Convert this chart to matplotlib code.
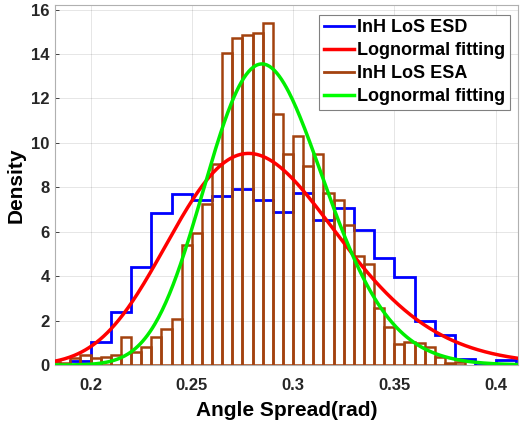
import matplotlib.pyplot as plt
import numpy as np

plt.rcParams['font.family'] = ['Liberation Sans', 'DejaVu Sans']
plt.rcParams['font.weight'] = 'bold'

# ESD histogram (stairs), bin width 0.01
esd_edges = [0.19, 0.20, 0.21, 0.22, 0.23, 0.24, 0.25, 0.26, 0.27, 0.28, 0.29, 0.30,
             0.31, 0.32, 0.33, 0.34, 0.35, 0.36, 0.37, 0.38, 0.39, 0.40, 0.41]
esd_density = [0.2, 1.03, 2.4, 4.42, 6.86, 7.72, 7.42, 7.6, 7.93, 7.45, 6.88,
               7.74, 6.52, 7.09, 6.07, 4.8, 3.97, 1.99, 1.33, 0.25, 0.0, 0.22]

# ESA histogram (bars), bin width 0.005
esa_left = [0.180, 0.185, 0.190, 0.195, 0.200, 0.205, 0.210, 0.215, 0.220, 0.225,
            0.230, 0.235, 0.240, 0.245, 0.250, 0.255, 0.260, 0.265, 0.270, 0.275,
            0.280, 0.285, 0.290, 0.295, 0.300, 0.305, 0.310, 0.315, 0.320, 0.325,
            0.330, 0.335, 0.340, 0.345, 0.350, 0.355, 0.360, 0.365, 0.370, 0.375,
            0.380]
esa_density = [0.15, 0.1, 0.3, 0.45, 0.3, 0.35, 0.45, 1.25, 0.57, 0.8,
               1.25, 1.6, 2.05, 5.39, 5.96, 7.24, 9.03, 14.05, 14.72, 14.85,
               14.94, 15.4, 11.31, 9.48, 10.29, 8.96, 9.48, 7.76, 7.45, 6.29,
               4.93, 4.57, 2.55, 1.72, 0.94, 1.05, 1.0, 0.8, 0.35, 0.1,
               0.15]
esa_width = 0.005

# lognormal fit parameters (mu, sigma of ln x), estimated from the curves
esd_mu, esd_sigma = -1.2579, 0.149
esa_mu, esa_sigma = -1.2461, 0.1029


def lognpdf(x, mu, sigma):
    return np.exp(-(np.log(x) - mu) ** 2 / (2 * sigma ** 2)) / (x * sigma * np.sqrt(2 * np.pi))


fig = plt.figure(figsize=(5.2, 4.23), dpi=100)
ax = fig.add_axes([0.106, 0.137, 0.89, 0.851])

x = np.linspace(0.18, 0.42, 400)
brown = '#a3420f'

ax.stairs(esd_density, esd_edges, color='#0000ff', linewidth=2, baseline=0,
          label='InH LoS ESD', zorder=2)
ax.plot([], [], color='#ff0000', linewidth=2.5, label='Lognormal fitting')
ax.bar(esa_left, esa_density, width=esa_width, align='edge', fill=False,
       edgecolor=brown, linewidth=1.8, zorder=3)
ax.plot([], [], color=brown, linewidth=2, label='InH LoS ESA')
ax.plot([], [], color='#00ff00', linewidth=2.5, label='Lognormal fitting')
ax.plot(x, lognpdf(x, esd_mu, esd_sigma), color='#ff0000', linewidth=2.5, zorder=4)
ax.plot(x, lognpdf(x, esa_mu, esa_sigma), color='#00ee00', linewidth=2.5, zorder=5)

ax.set_xlim(0.1825, 0.411)
ax.set_ylim(0, 16.2)
ax.set_xticks([0.2, 0.25, 0.3, 0.35, 0.4])
ax.set_xticklabels(['0.2', '0.25', '0.3', '0.35', '0.4'])
ax.set_yticks(range(0, 17, 2))
ax.tick_params(direction='in', length=3, labelsize=12, colors='#262626',
               width=0.6)
ax.tick_params(axis='x', pad=9)
ax.tick_params(axis='y', pad=4)
for lab in ax.get_xticklabels() + ax.get_yticklabels():
    lab.set_fontweight('bold')
ax.grid(True, color='#000000', alpha=0.1, linewidth=0.7)
ax.set_axisbelow(True)
for s in ax.spines.values():
    s.set_color('#b0b0b0')
    s.set_linewidth(0.8)

ax.set_xlabel('Angle Spread(rad)', fontsize=15, fontweight='bold', labelpad=6)
ax.set_ylabel('Density', fontsize=15, fontweight='bold', labelpad=4)

leg = ax.legend(loc='upper right', fontsize=13, frameon=True, fancybox=False,
                handlelength=1.65, handletextpad=0.2, borderpad=0.25,
                labelspacing=0.33, borderaxespad=0, bbox_to_anchor=(0.983, 0.973))
leg.get_frame().set_edgecolor('#808080')
leg.get_frame().set_linewidth(0.8)
leg.get_frame().set_alpha(1)
for t in leg.get_texts():
    t.set_fontweight('bold')

fig.savefig('out.png', dpi=100)
